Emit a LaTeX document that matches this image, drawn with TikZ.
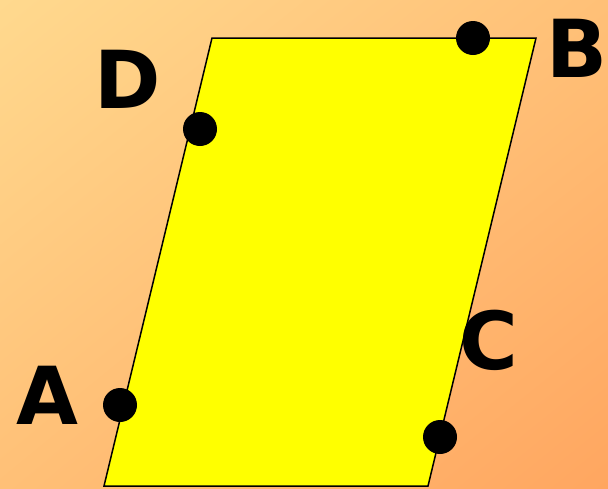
\documentclass[tikz,border=0pt]{standalone}
\usepackage{fontspec}
\setmainfont{DejaVu Sans}
\usetikzlibrary{positioning, shadings}
\definecolor{bgtopleft}{HTML}{FFD98E}
\definecolor{bgbottomright}{HTML}{FFA660}
\definecolor{bgmid}{HTML}{FFC077}
\definecolor{shapeyellow}{HTML}{FFFF00}
\tikzset{
  dot/.style={circle, fill=black, inner sep=0pt, minimum size=34pt},
  letter/.style={font=\fontsize{80}{80}\selectfont\bfseries, inner sep=0pt}
}
\begin{document}
\begin{tikzpicture}[x=1pt, y=-1pt]
				% background
				\shade[upper left=bgtopleft, upper right=bgmid, lower left=bgmid, lower right=bgbottomright] (0,0) rectangle (608,488);
				\useasboundingbox (0,0) rectangle (608,488);
				% parallelogram
				\coordinate (tl) at (212,38);
				\coordinate (tr) at (536,38);
				\coordinate (br) at (428,486);
				\coordinate (bl) at (104,486);
				\draw[fill=shapeyellow, line width=1.5pt] (tl) -- (tr) -- (br) -- (bl) -- cycle;
				% points
				\node[dot] (dotD) at (200,129) {};
				\node[dot] (dotB) at (473,38) {};
				\node[dot] (dotC) at (440,437) {};
				\node[dot] (dotA) at (120,405) {};
				% labels
				\node[letter] (labD) at (128,79) {D};
				\node[letter] (labB) at (577,48) {B};
				\node[letter] (labC) at (489,340) {C};
				\node[letter] (labA) at (47,395) {A};
\end{tikzpicture}
\end{document}
